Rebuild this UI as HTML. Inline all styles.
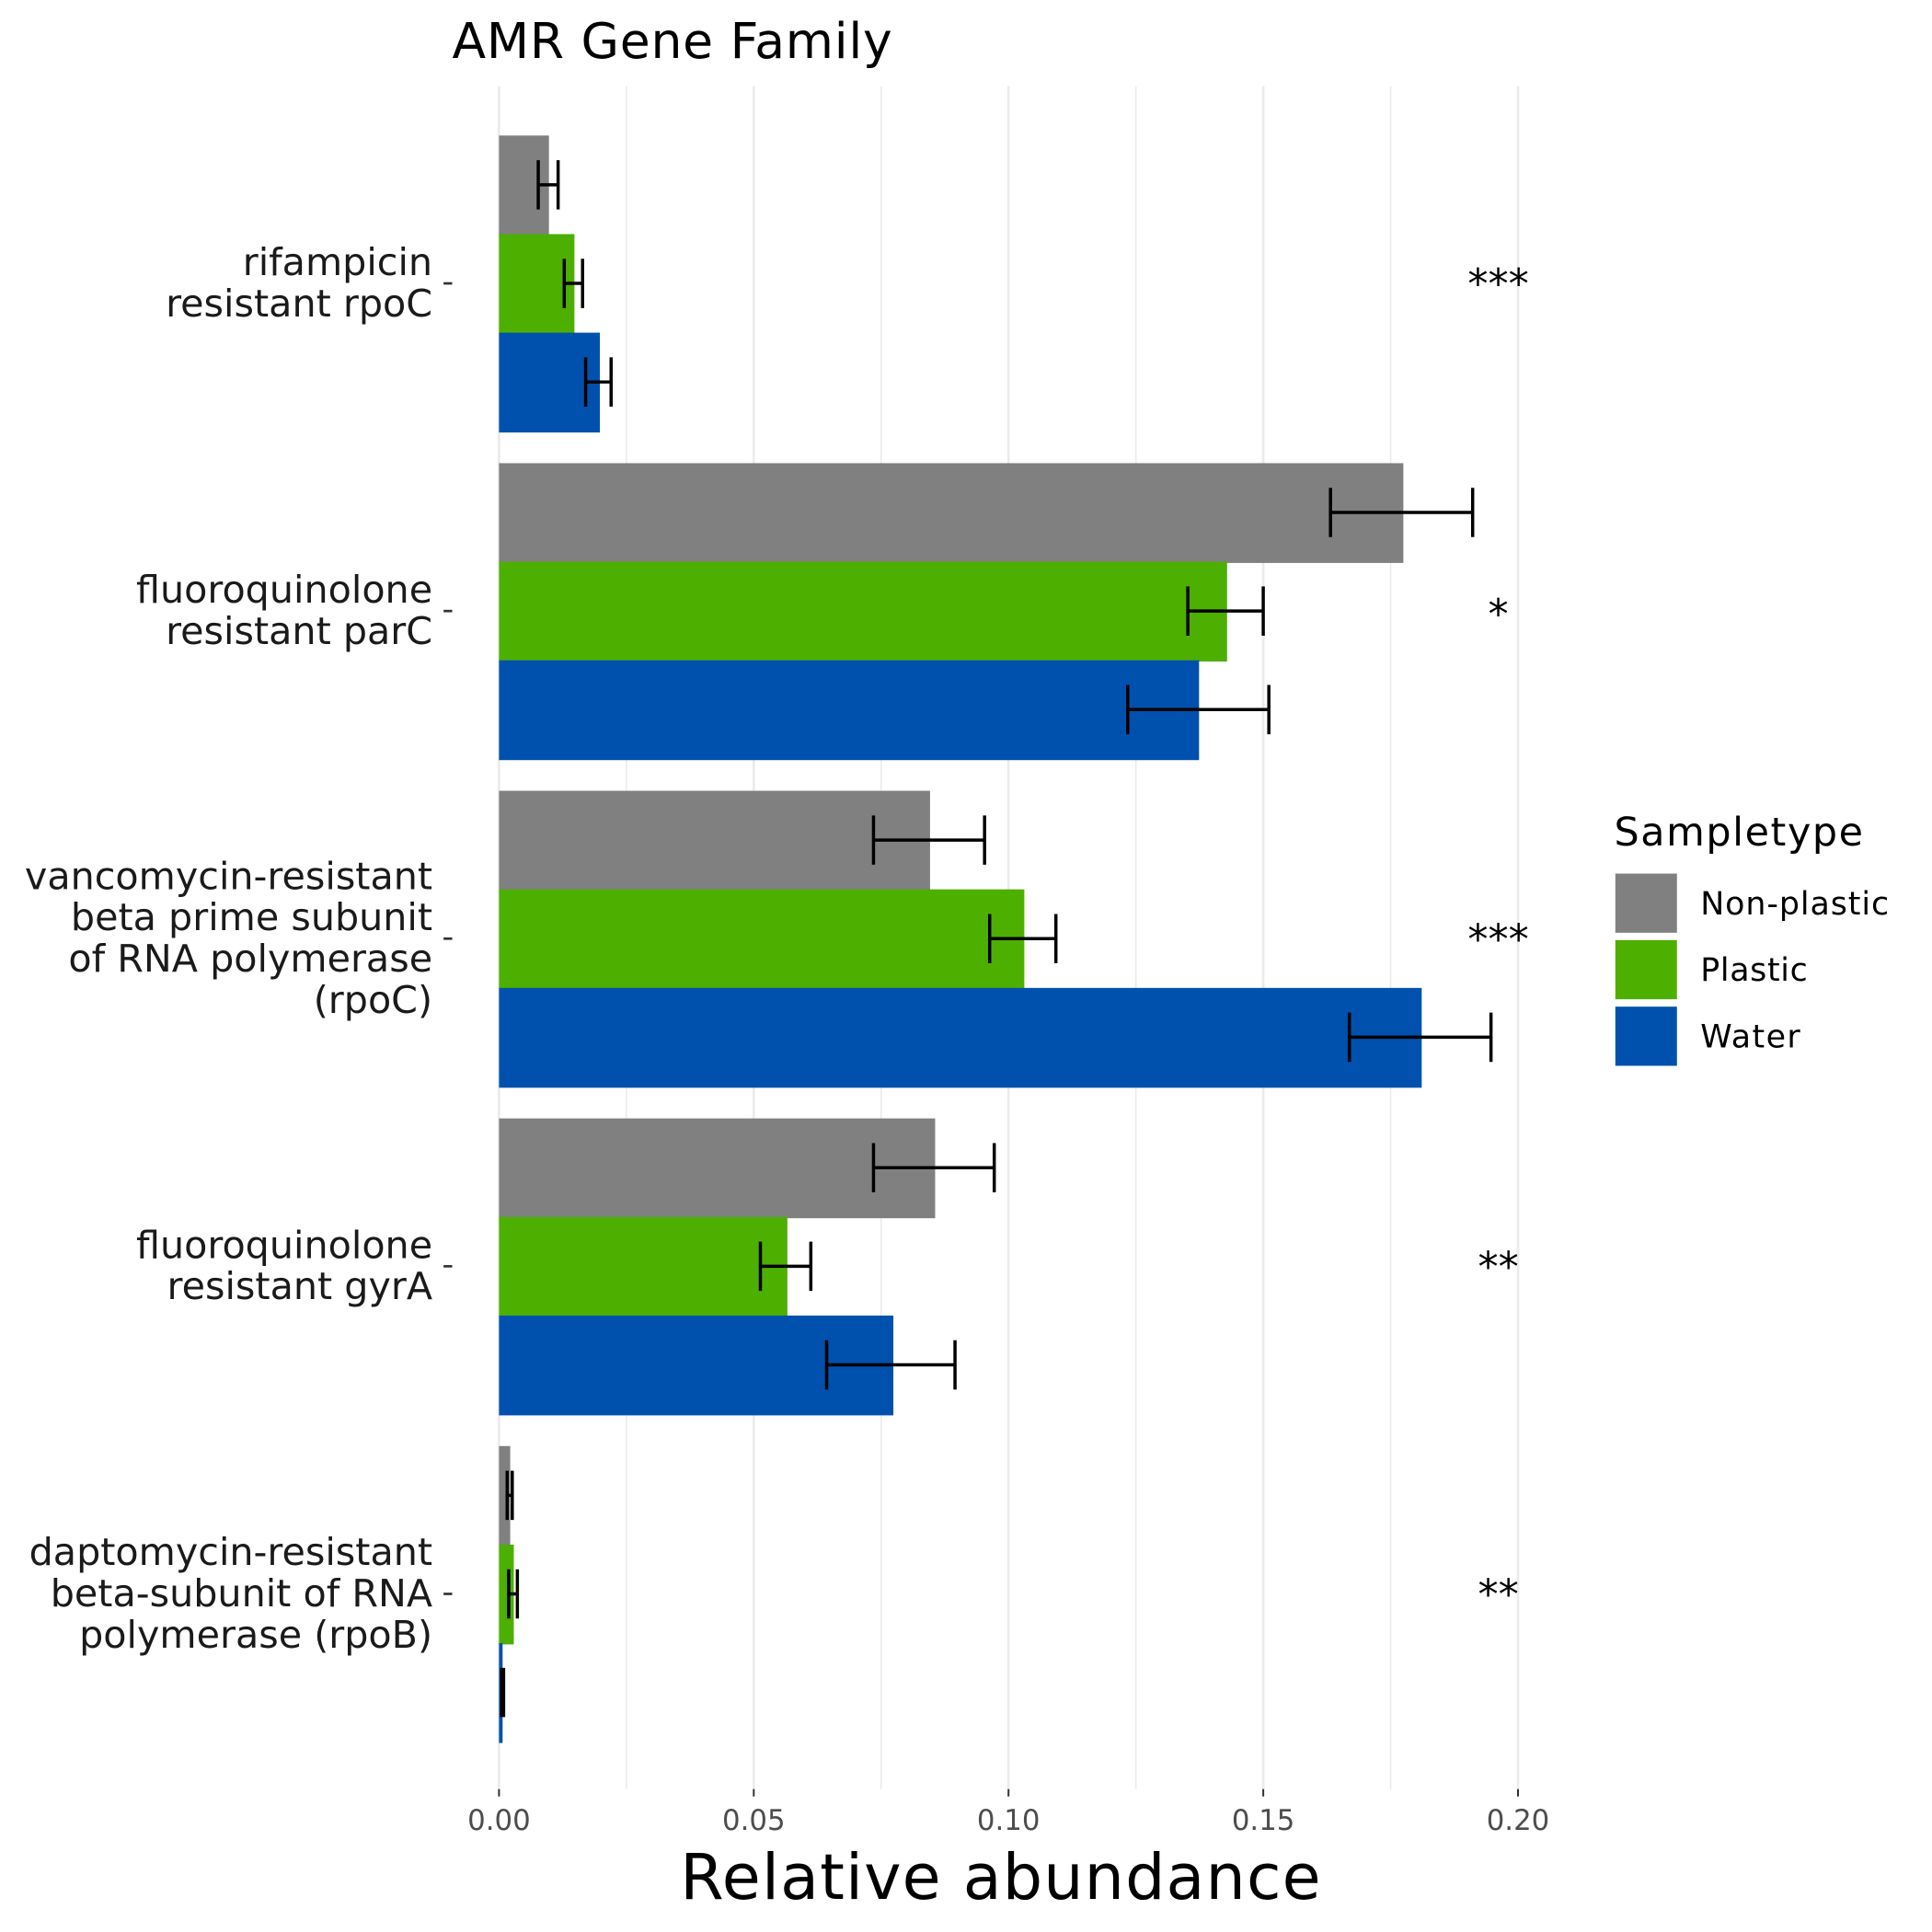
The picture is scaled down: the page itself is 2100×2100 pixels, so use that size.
<!DOCTYPE html>
<html><head><meta charset="utf-8"><style>
html,body{margin:0;padding:0;background:#fff;}
svg{display:block;font-family:"DejaVu Sans","Liberation Sans",sans-serif;}
</style></head><body>
<svg id="chart" width="2100" height="2100" viewBox="0 0 1568 1568" xmlns="http://www.w3.org/2000/svg">
<rect width="1568" height="1568" fill="#fff"/>
<g id="grid"></g>
<g id="bars"></g>
<g id="ylabels"></g>
<g id="xlabels"></g>
<text x="367" y="47" font-size="40" textLength="357" fill="#000">AMR Gene Family</text>
<text x="812" y="1541" font-size="51" text-anchor="middle" textLength="520" fill="#000">Relative abundance</text>
<g>
<text x="1310" y="686" font-size="32" textLength="202">Sampletype</text>
<rect x="1311" y="709" width="50" height="48" fill="#808080"/>
<text x="1380" y="742" font-size="26" textLength="153">Non-plastic</text>
<rect x="1311" y="763" width="50" height="48" fill="#4daf00"/>
<text x="1380" y="796" font-size="26" textLength="87">Plastic</text>
<rect x="1311" y="817" width="50" height="48" fill="#0051ad"/>
<text x="1380" y="850" font-size="26" textLength="81">Water</text>
</g>
</svg>
<script>
const categories = [
  ["rifampicin","resistant rpoC"],
  ["fluoroquinolone","resistant parC"],
  ["vancomycin-resistant","beta prime subunit","of RNA polymerase","(rpoC)"],
  ["fluoroquinolone","resistant gyrA"],
  ["daptomycin-resistant","beta-subunit of RNA","polymerase (rpoB)"]
];
const nonPlastic = [0.0098, 0.1775, 0.0846, 0.0856, 0.0022];
const nonPlasticLo = [0.0077, 0.1632, 0.0735, 0.0735, 0.0016];
const nonPlasticHi = [0.0116, 0.1911, 0.0953, 0.0972, 0.0026];
const plastic = [0.0148, 0.1429, 0.1031, 0.0566, 0.0029];
const plasticLo = [0.0128, 0.1352, 0.0963, 0.0513, 0.0019];
const plasticHi = [0.0164, 0.1500, 0.1093, 0.0612, 0.0036];
const water = [0.0198, 0.1374, 0.1811, 0.0774, 0.0007];
const waterLo = [0.0170, 0.1234, 0.1669, 0.0643, 0.0005];
const waterHi = [0.0220, 0.1511, 0.1947, 0.0895, 0.0009];
const signif = ["***","*","***","**","**"];
const xTicks = [0, 0.05, 0.10, 0.15, 0.20];
const xTickLabels = ["0.00","0.05","0.10","0.15","0.20"];

const NS="http://www.w3.org/2000/svg";
const X0=405, X1=1232, V1=0.2;
const x = v => X0 + (X1-X0)*v/V1;
const groupY = i => 230 + i*265.9;
const BH = 80;
function mk(tag, attrs, parent){const e=document.createElementNS(NS,tag);for(const k in attrs)e.setAttribute(k,attrs[k]);parent.appendChild(e);return e;}
const grid=document.getElementById('grid'), bars=document.getElementById('bars'), yl=document.getElementById('ylabels'), xl=document.getElementById('xlabels');
for(let k=0;k<=8;k++){
  const v=k*0.025;
  const l=mk('line',{x1:x(v),x2:x(v),y1:70,y2:1452,stroke:'#ebebeb','stroke-width':k%2?1.2:2},grid);
  
  
}
xTicks.forEach((v,i)=>{
  const t=mk('line',{x1:x(v),x2:x(v),y1:1452,y2:1458,stroke:'#333','stroke-width':1.5},xl);
  
  
  const tx=mk('text',{x:x(v),y:1485,'font-size':23,'text-anchor':'middle',fill:'#4d4d4d'},xl);
  tx.textContent=xTickLabels[i];
  
  
});
const series=[[nonPlastic,nonPlasticLo,nonPlasticHi,'#808080','non-plastic'],[plastic,plasticLo,plasticHi,'#4daf00','plastic'],[water,waterLo,waterHi,'#0051ad','water']];
categories.forEach((cat,i)=>{
  const cy=groupY(i);
  series.forEach((s,j)=>{
    const top=cy-120+j*BH;
    const r=mk('rect',{x:X0,y:top,width:Math.max(0,x(s[0][i])-X0),height:BH+1,fill:s[3]},bars);
    
    
  });
  series.forEach((s,j)=>{
    const my=cy-120+j*BH+BH/2, lo=x(s[1][i]), hi=x(s[2][i]);
    const g=mk('path',{d:`M${lo},${my-20}V${my+20}M${hi},${my-20}V${my+20}M${lo},${my}H${hi}`,stroke:'#000','stroke-width':2.6,fill:'none'},bars);
    
    
  });
  const st=mk('text',{x:1216,y:cy+(signif[i].length===1?14:12),'font-size':33,'text-anchor':'middle',fill:'#000'},bars);
  st.textContent=signif[i];
  
  
  const tk=mk('line',{x1:360,x2:367,y1:cy,y2:cy,stroke:'#333','stroke-width':2},yl);
  
  
  const n=cat.length, lh=33.5;
  cat.forEach((line,k)=>{
    const t=mk('text',{x:351,y:cy+(k-(n-1)/2)*lh+10,'font-size':30.8,'text-anchor':'end',fill:'#1a1a1a'},yl);
    t.textContent=line;
    
    
  });
});
</script>
</body></html>
